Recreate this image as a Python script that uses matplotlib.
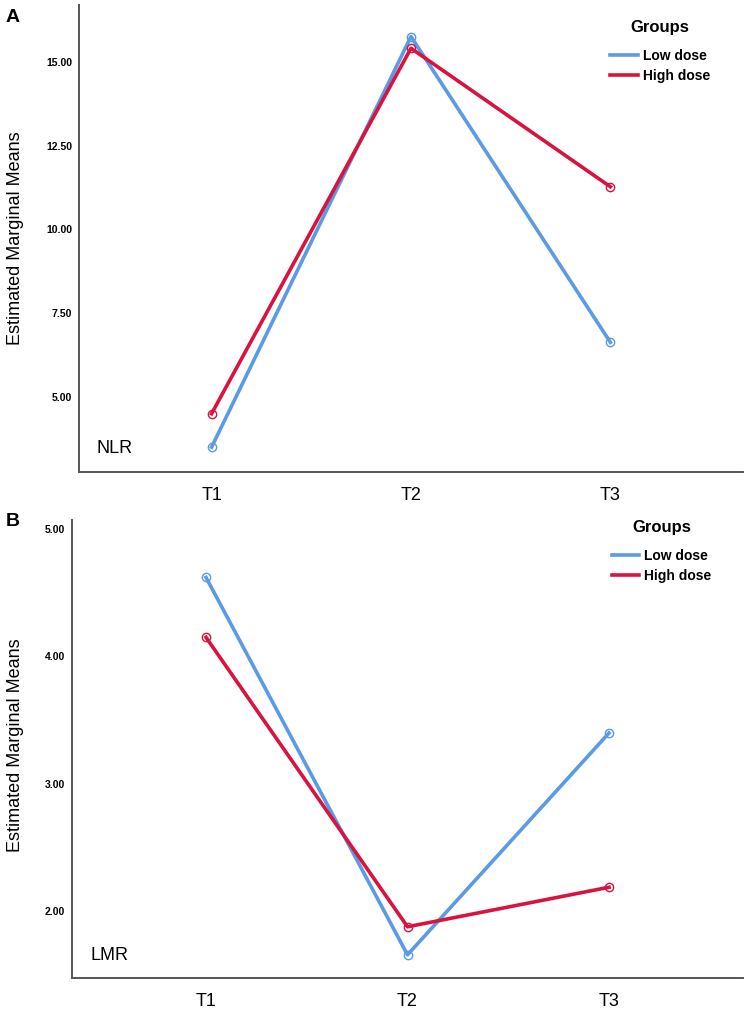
import matplotlib
matplotlib.use('Agg')
import matplotlib.pyplot as plt
from matplotlib.lines import Line2D

plt.rcParams['font.family'] = ['Liberation Sans', 'DejaVu Sans']

times = ['T1', 'T2', 'T3']
groups = ['Low dose', 'High dose']
nlr_low = [3.5, 15.75, 6.63]
nlr_high = [4.5, 15.4, 11.27]
lmr_low = [4.62, 1.66, 3.40]
lmr_high = [4.15, 1.88, 2.19]
nlr_ticks = [5.0, 7.5, 10.0, 12.5, 15.0]
lmr_ticks = [2.0, 3.0, 4.0, 5.0]

blue = '#5a9be3'
red = '#d9123f'

fig = plt.figure(figsize=(7.5, 10.09), dpi=100)
ax1 = fig.add_axes([0.1053, 0.5322, 0.8853, 0.4628])
ax2 = fig.add_axes([0.096, 0.0307, 0.8947, 0.4539])


def draw(ax, low, high, ticks, ylim, name, leg_x, leg_y):
    x = [1, 2, 3]
    for vals, c in [(low, blue), (high, red)]:
        ax.plot(x, vals, color=c, lw=2.6, marker='o', ms=6,
                mfc='none', mec=c, mew=1.0)
    ax.set_xlim(0.335, 3.665)
    ax.set_ylim(*ylim)
    ax.set_xticks(x)
    ax.set_xticklabels(times, fontsize=13)
    ax.set_yticks(ticks)
    ax.set_yticklabels(['%.2f' % t for t in ticks], fontsize=7.5, fontweight='bold')
    ax.tick_params(length=0)
    ax.tick_params(axis='x', pad=11)
    ax.tick_params(axis='y', pad=5)
    for s in ['top', 'right']:
        ax.spines[s].set_visible(False)
    for s in ['left', 'bottom']:
        ax.spines[s].set_color('#555555')
        ax.spines[s].set_linewidth(1.4)
    ax.text(0.027, 0.05, name, transform=ax.transAxes, fontsize=13,
            va='center', ha='left')
    handles = [Line2D([0], [0], color=blue, lw=2.6),
               Line2D([0], [0], color=red, lw=2.6)]
    leg = ax.legend(handles, groups, title='Groups', loc='upper left',
                    bbox_to_anchor=(leg_x, leg_y), frameon=False,
                    borderaxespad=0, borderpad=0,
                    handlelength=2.0, handletextpad=0.35, labelspacing=0.45,
                    prop={'weight': 'bold', 'size': 10})
    leg.get_title().set_fontsize(12)
    leg.get_title().set_fontweight('bold')
    leg._legend_box.sep = 10


draw(ax1, nlr_low, nlr_high, nlr_ticks, (2.76, 16.69), 'NLR', 0.80, 0.968)
draw(ax2, lmr_low, lmr_high, lmr_ticks, (1.478, 5.07), 'LMR', 0.804, 1.0)

fig.text(0.021, 1 - 238 / 1009, 'Estimated Marginal Means', rotation=90,
         fontsize=13, va='center', ha='center')
fig.text(0.021, 1 - 745 / 1009, 'Estimated Marginal Means', rotation=90,
         fontsize=13, va='center', ha='center')
fig.text(0.008, 1 - 18 / 1009, 'A', fontsize=14, fontweight='bold', va='center')
fig.text(0.008, 1 - 522 / 1009, 'B', fontsize=14, fontweight='bold', va='center')

fig.savefig('out.png', dpi=100)
